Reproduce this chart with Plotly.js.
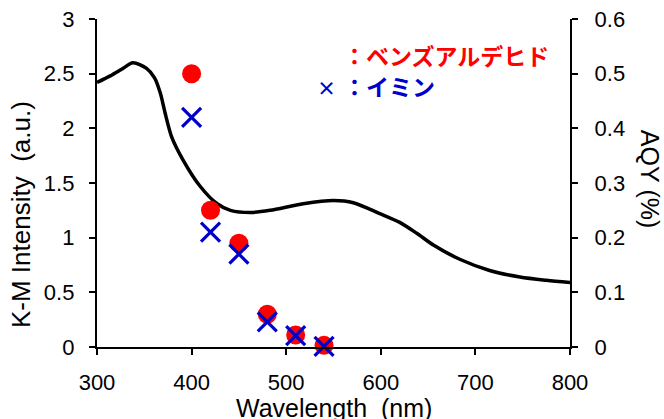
<!DOCTYPE html>
<html>
<head>
<meta charset="utf-8">
<script src="https://cdn.plot.ly/plotly-3.0.1.min.js"></script>
<style>
html,body{margin:0;padding:0;background:#fff;}
#chart{width:664px;height:419px;}
</style>
</head>
<body>
<div id="chart"></div>
<script>
// K-M spectrum (left axis)
const specWavelength = [300, 314, 326, 338, 352, 361, 367, 372, 379, 391, 409, 427, 441, 462, 483, 518, 550, 571, 599, 620, 638, 656, 684, 715, 747, 775, 800];
const specKM = [2.42, 2.48, 2.54, 2.60, 2.55, 2.46, 2.32, 2.14, 1.92, 1.71, 1.47, 1.31, 1.25, 1.23, 1.25, 1.31, 1.34, 1.32, 1.22, 1.14, 1.04, 0.93, 0.80, 0.70, 0.64, 0.61, 0.59];

// AQY (right axis)
const aqyWavelength = [400, 420, 450, 480, 510, 540];
const aqyBenzaldehyde = [0.50, 0.25, 0.19, 0.06, 0.022, 0.003];
const aqyImine = [0.42, 0.21, 0.17, 0.046, 0.021, 0.001];

const xTicks = [300, 400, 500, 600, 700, 800];
const yTicks = [0, 0.5, 1, 1.5, 2, 2.5, 3];
const y2Ticks = [0, 0.1, 0.2, 0.3, 0.4, 0.5, 0.6];

const labelBenz = '：ベンズアルデヒド';
const labelImine = '：イミン';

const font = 'Liberation Sans, Arial, sans-serif';
const jpFont = 'Noto Sans CJK JP, sans-serif';

const traces = [
  {
    x: specWavelength, y: specKM, type: 'scatter', mode: 'lines',
    line: {color: '#000', width: 3.5, shape: 'spline', smoothing: 0.8},
    yaxis: 'y', showlegend: false, hoverinfo: 'skip'
  },
  {
    x: aqyWavelength, y: aqyBenzaldehyde, type: 'scatter', mode: 'markers',
    marker: {symbol: 'circle', size: 19, color: '#ff0000'},
    yaxis: 'y2', showlegend: false, cliponaxis: false
  },
  {
    x: aqyWavelength, y: aqyImine, type: 'scatter', mode: 'markers',
    marker: {symbol: 'x-thin', size: 19, color: '#0000cc', line: {color: '#0000cc', width: 3.2}},
    yaxis: 'y2', showlegend: false, cliponaxis: false
  }
];

const axisCommon = {
  showgrid: false, zeroline: false, showline: true, linecolor: '#000', linewidth: 2.2,
  ticks: 'outside', ticklen: 6, tickwidth: 2, tickcolor: '#000',
  tickfont: {family: font, size: 22, color: '#000'}
};

const layout = {
  width: 664, height: 419,
  margin: {l: 97, r: 94, t: 19, b: 72, pad: 0},
  paper_bgcolor: '#fff', plot_bgcolor: '#fff',
  xaxis: Object.assign({}, axisCommon, {
    range: [300, 800], tickvals: xTicks, ticktext: xTicks.map(String),
    ticklabelstandoff: 8
  }),
  yaxis: Object.assign({}, axisCommon, {
    range: [0, 3], tickvals: yTicks, ticktext: yTicks.map(String),
    ticklabelstandoff: 10
  }),
  yaxis2: Object.assign({}, axisCommon, {
    range: [0, 0.6], tickvals: y2Ticks, ticktext: y2Ticks.map(String),
    overlaying: 'y', side: 'right', ticklabelstandoff: 12
  }),
  annotations: [
    {text: 'K-M Intensity&nbsp;&nbsp;(a.u.)', xref: 'paper', yref: 'paper', x: -0.161, y: 0.405,
     xanchor: 'center', yanchor: 'middle',
     textangle: -90, showarrow: false, font: {family: font, size: 26, color: '#000'}},
    {text: 'AQY&nbsp;(%)', xref: 'paper', yref: 'paper', x: 1.169, y: 0.51,
     xanchor: 'center', yanchor: 'middle',
     textangle: 90, showarrow: false, font: {family: font, size: 25, color: '#000'}},
    {text: 'Wavelength&nbsp;&nbsp;(nm)', xref: 'paper', yref: 'paper', x: 0.5, y: -0.186,
     xanchor: 'center', yanchor: 'middle',
     showarrow: false, font: {family: font, size: 25, color: '#000'}},
    {text: '<b>' + labelBenz + '</b>', xref: 'paper', yref: 'paper', x: 0.516, y: 0.89,
     xanchor: 'left', yanchor: 'middle', showarrow: false, font: {family: jpFont, size: 23, color: '#ff0000'}},
    {text: '<b>×</b>', xref: 'paper', yref: 'paper', x: 0.486, y: 0.79,
     xanchor: 'center', yanchor: 'middle', showarrow: false, font: {family: jpFont, size: 19, color: '#0000cc'}},
    {text: '<b>' + labelImine + '</b>', xref: 'paper', yref: 'paper', x: 0.516, y: 0.795,
     xanchor: 'left', yanchor: 'middle', showarrow: false, font: {family: jpFont, size: 23, color: '#0000cc'}}
  ]
};

Plotly.newPlot('chart', traces, layout, {staticPlot: true, displayModeBar: false});
</script>
</body>
</html>
